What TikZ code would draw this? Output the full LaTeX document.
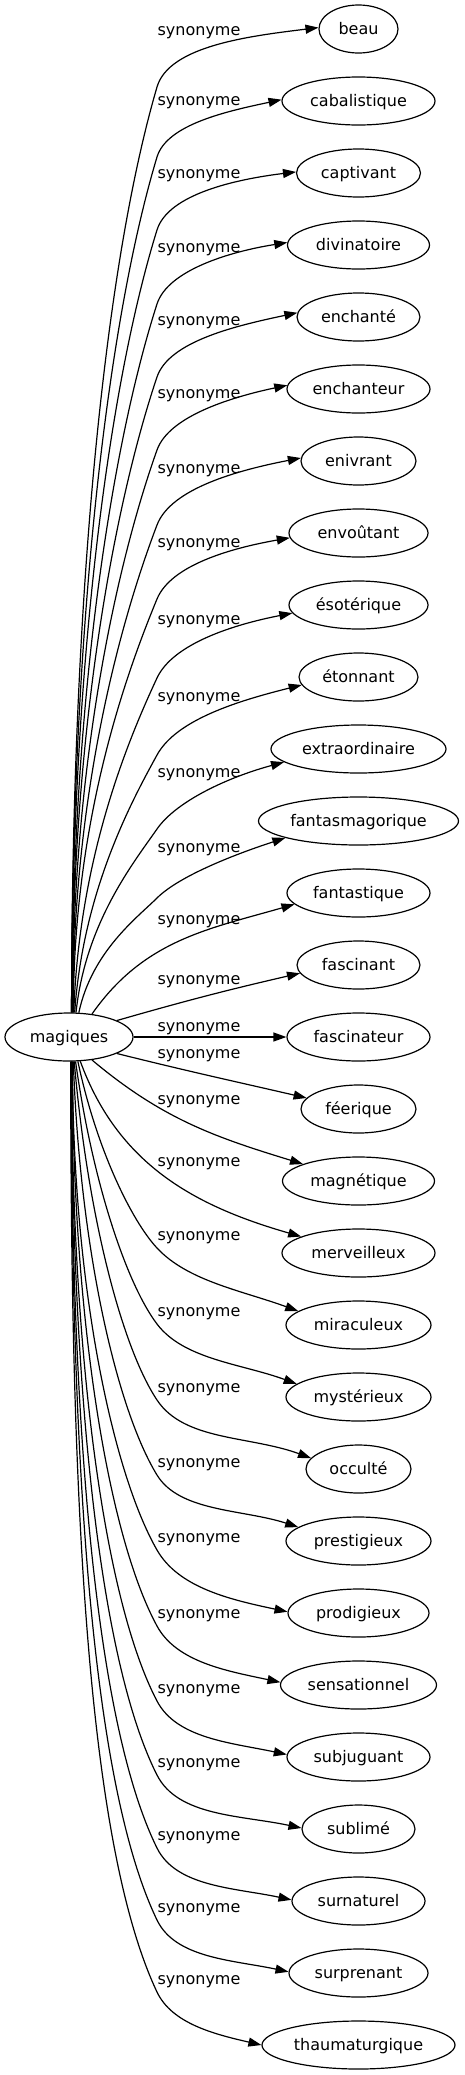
\documentclass[tikz,border=0pt]{standalone}
\usepackage{fontspec}
\setmainfont{DejaVu Sans}
\usetikzlibrary{shapes.geometric,arrows.meta}
\begin{document}
\begin{tikzpicture}[x=1pt,y=1pt,
  word/.style={draw, ellipse, inner sep=0pt, minimum height=48pt, line width=1.2pt,
    font=\fontsize{16}{19}\selectfont, text height=11pt, text depth=0pt},
  lab/.style={inner sep=0pt, anchor=base, font=\fontsize{16}{19}\selectfont},
  conn/.style={line width=1.2pt, -{Triangle[length=13pt,width=9pt]}}]
\useasboundingbox (0,0) rectangle (465,-2075);

\node[word, minimum width=128pt] (m) at (69,-1037) {magiques};

\foreach \nm/\tx/\w [count=\i from 0] in {
beau/beau/79, cabalistique/cabalistique/153, captivant/captivant/124,
divinatoire/divinatoire/142, enchante/enchanté/123, enchanteur/enchanteur/143,
enivrant/enivrant/115, envoutant/envoûtant/139, esoterique/ésotérique/139,
etonnant/étonnant/119, extraordinaire/extraordinaire/175,
fantasmagorique/fantasmagorique/200, fantastique/fantastique/143,
fascinant/fascinant/123, fascinateur/fascinateur/143, feerique/féerique/115,
magnetique/magnétique/152, merveilleux/merveilleux/153, miraculeux/miraculeux/145,
mysterieux/mystérieux/145, occulte/occulté/105, prestigieux/prestigieux/145,
prodigieux/prodigieux/141, sensationnel/sensationnel/156, subjuguant/subjuguant/143,
sublime/sublimé/113, surnaturel/surnaturel/133, surprenant/surprenant/139,
thaumaturgique/thaumaturgique/193}{
  \node[word, minimum width=\w pt] (\nm) at (358.5,{-(29+72*\i)}) {\tx};
}

\foreach \yl [count=\i from 0] in {31,101,174,248,321,394,469,543,620,697,773,848,920,980,
  1027,1054,1100,1162,1236,1312,1388,1463,1538,1614,1689,1763,1836,1908,1980}{
  \node[lab] (l\i) at (199,{-(\yl+4.5)}) {synonyme};
}

% upward edges
\foreach \nm/\ri/\yl/\q/\sa/\sx/\oo/\ta/\ph/\hw in {
beau/0/31/56/84/71/90/178/7/39.5,
cabalistique/1/101/56/84/71/90/179/12/76.5,
captivant/2/174/56/84/71/90/179/7/62,
divinatoire/3/248/56/83/72/90/178/9/71,
enchante/4/321/56/83/72/90/176/12/61.5,
enchanteur/5/394/56/82/72/90/177/12/71.5,
enivrant/6/469/56/81/72.5/90/177/11/57.5,
envoutant/7/543/56/80/73/90/184/10/69.5,
esoterique/8/620/58/79/73.5/88/187/11/69.5,
etonnant/9/697/58/77/74.5/86/188/14/59.5,
extraordinaire/10/773/56/74/76/84/190/15/87.5,
fantasmagorique/11/848/50/68/79/78/193/18/100}{
  \pgfmathsetmacro\yq{\yl+\q}
  \pgfmathsetmacro\yt{29+72*\ri}
  \pgfmathsetmacro\dX{157-\sx}
  \pgfmathsetmacro\dY{1013-\yq}
  \pgfmathsetmacro\cang{atan(\dY/\dX)}
  \pgfmathsetmacro\thq{\cang-11}
  \pgfmathsetmacro\Lc{veclen(\dX,\dY)}
  \pgfmathsetmacro\dA{0.45*\Lc}
  \pgfmathsetmacro\dB{0.2*\Lc}
  \pgfmathsetmacro\Lb{veclen(358.5-\hw-157,\yq-\yt)}
  \pgfmathsetmacro\dC{0.25*\Lb}
  \pgfmathsetmacro\dD{0.4*\Lb}
  \pgfmathsetmacro\inA{\thq+180}
  \pgfmathsetmacro\inB{\ph+180}
  \draw[conn] (m.\sa) to[out=\oo, in=\inA, out distance=\dA pt, in distance=\dB pt] (157,-\yq)
     to[out=\thq, in=\inB, out distance=\dC pt, in distance=\dD pt] (\nm.\ta);
}

% near edges
\draw[conn] (m.45) to[out=55, in=196] (fantastique.190);
\draw[conn] (m.19) to[out=16, in=193] (fascinant.188);
\draw[conn] (m.east) -- (fascinateur.west);
\draw[conn] (m.341) to[out=346, in=167] (feerique.168);
\draw[conn] (m.315) to[out=320, in=163] (magnetique.163);
\draw[conn] (m.295) to[out=290, in=164] (merveilleux.164);

% downward edges
\foreach \nm/\ri/\yl/\sa/\sx/\oo/\ta/\ph/\hw in {
miraculeux/18/1236/290/78/282/167/-20/72.5,
mysterieux/19/1312/285/76/278/168/-20/72.5,
occulte/20/1388/282/75/275/167/-20/52.5,
prestigieux/21/1463/280/73/272/167/-18/72.5,
prodigieux/22/1538/278/72.5/270/179/-12/70.5,
sensationnel/23/1614/278/72.5/270/178/-12/78,
subjuguant/24/1689/276/71.5/270/178/-12/71.5,
sublime/25/1763/276/71.5/270/179/-12/56.5,
surnaturel/26/1836/275/71/270/179/-12/66.5,
surprenant/27/1908/275/71/270/179/-12/69.5,
thaumaturgique/28/1980/274/70.7/270/180/-13/96.5}{
  \pgfmathsetmacro\yq{\yl+12}
  \pgfmathsetmacro\yt{29+72*\ri}
  \pgfmathsetmacro\dX{157-\sx}
  \pgfmathsetmacro\dY{\yq-1061}
  \pgfmathsetmacro\cang{atan(\dY/\dX)}
  \pgfmathsetmacro\thq{20-\cang}
  \pgfmathsetmacro\Lc{veclen(\dX,\dY)}
  \pgfmathsetmacro\dA{0.45*\Lc}
  \pgfmathsetmacro\dB{0.18*\Lc}
  \pgfmathsetmacro\Lb{veclen(358.5-\hw-157,\yt-\yq)}
  \pgfmathsetmacro\dC{0.3*\Lb}
  \pgfmathsetmacro\dD{0.4*\Lb}
  \pgfmathsetmacro\inA{\thq+180}
  \pgfmathsetmacro\inB{\ph+180}
  \draw[conn] (m.\sa) to[out=\oo, in=\inA, out distance=\dA pt, in distance=\dB pt] (157,-\yq)
     to[out=\thq, in=\inB, out distance=\dC pt, in distance=\dD pt] (\nm.\ta);
}
\end{tikzpicture}
\end{document}
